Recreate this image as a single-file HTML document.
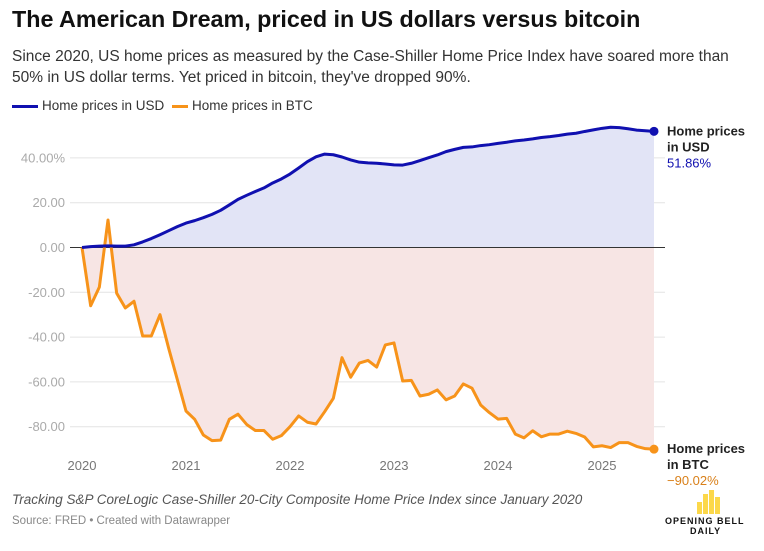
<!DOCTYPE html>
<html><head><meta charset="utf-8"><style>
body{margin:0;width:764px;height:551px;background:#fff;font-family:"Liberation Sans",sans-serif;overflow:hidden;position:relative}
.t{position:absolute;white-space:nowrap}
</style></head><body>
<div class="t" style="left:12px;top:6px;font-size:23.3px;font-weight:bold;color:#111">The American Dream, priced in US dollars versus bitcoin</div>
<div class="t" style="left:12px;top:46px;font-size:15.5px;line-height:21px;color:#333;white-space:normal;width:740px">Since 2020, US home prices as measured by the Case-Shiller Home Price Index have soared more than 50% in US dollar terms. Yet priced in bitcoin, they've dropped 90%.</div>
<div class="t" style="left:12px;top:98px;font-size:13.5px;color:#333"><span style="display:inline-block;width:26px;height:3px;background:#1010b0;vertical-align:middle;margin-right:4px"></span>Home prices in USD</div>
<div class="t" style="left:172px;top:98px;font-size:13.5px;color:#333"><span style="display:inline-block;width:16px;height:3px;background:#f7931a;vertical-align:middle;margin-right:4px"></span>Home prices in BTC</div>
<svg id="c" width="764" height="551" style="position:absolute;left:0;top:0"></svg>
<div class="t" style="left:12px;top:492px;font-size:13.5px;font-style:italic;color:#555">Tracking S&amp;P CoreLogic Case-Shiller 20-City Composite Home Price Index since January 2020</div>
<div class="t" style="left:12px;top:515px;font-size:11.5px;color:#888">Source: FRED • Created with Datawrapper</div>
<div style="position:absolute;left:660px;top:490px;width:100px;height:50px">
<div style="position:absolute;left:37px;top:12px;width:5px;height:12px;background:#fcd84a"></div>
<div style="position:absolute;left:43px;top:4px;width:5px;height:20px;background:#fcd84a"></div>
<div style="position:absolute;left:49px;top:0px;width:5px;height:24px;background:#fcd84a"></div>
<div style="position:absolute;left:55px;top:7px;width:5px;height:17px;background:#fcd84a"></div>
<div class="t" style="left:5px;top:26px;font-size:9px;font-weight:bold;letter-spacing:1px;color:#111">OPENING BELL</div>
<div class="t" style="left:30px;top:36px;font-size:9px;font-weight:bold;letter-spacing:1px;color:#111">DAILY</div>
</div>
<script>
const years=["2020","2021","2022","2023","2024","2025"];
const yTicks=[40,20,0,-20,-40,-60,-80];
const usd=[0,0.4,0.6,0.7,0.6,0.6,1.2,2.5,4,5.7,7.5,9.3,
10.9,12,13.3,14.8,16.6,19,21.5,23.3,25,26.6,28.8,30.6,
32.8,35.5,38.3,40.5,41.7,41.4,40.4,39.1,38.1,37.8,37.6,37.3,
36.9,36.8,37.6,38.8,40.1,41.3,42.8,43.8,44.7,44.9,45.5,45.9,
46.5,47,47.6,48,48.5,49.1,49.5,50,50.6,51,51.8,52.5,
53.2,53.7,53.5,53,52.4,52.1,51.86];
const btc=[0,-26,-17.7,12.3,-20.4,-27,-24,-39.5,-39.5,-30,-45,-59,
-73,-76.7,-83.7,-86.2,-86,-76.7,-74.4,-79,-81.7,-81.7,-85.6,-84,
-80,-75.2,-78,-78.8,-73.3,-67.3,-49.2,-57.9,-51.6,-50.4,-53.4,-43.5,
-42.6,-59.6,-59.3,-66.3,-65.5,-63.6,-68,-66.3,-60.9,-62.8,-70.3,-73.7,
-76.6,-76.3,-83.3,-85,-81.8,-84.5,-83.3,-83.3,-82,-83,-84.6,-89,
-88.5,-89.3,-87.1,-87.1,-88.8,-89.8,-90.02];
const svg=document.getElementById('c');const NS='http://www.w3.org/2000/svg';
const X=i=>82+i*(104/12), Y=v=>247.5-v*2.24;
function mk(t,a,p){const e=document.createElementNS(NS,t);for(const k in a)e.setAttribute(k,a[k]);(p||svg).appendChild(e);return e;}
yTicks.forEach(v=>{if(v!==0){const g=mk('line',{x1:70,x2:665,y1:Y(v),y2:Y(v),stroke:'#e4e4e4','stroke-width':1});

}
const t=mk('text',{x:65,y:Y(v)+4.5,'font-size':13,fill:'#aaa','text-anchor':'end','font-family':'Liberation Sans'});t.textContent=v===40?'40.00%':v.toFixed(2);

});
const n=usd.length;
function area(arr,fill,name){let d='M'+X(0)+','+Y(0);arr.forEach((v,i)=>d+='L'+X(i)+','+Y(v));d+='L'+X(n-1)+','+Y(0)+'Z';const p=mk('path',{d:d,fill:fill});

}
area(usd,'#e2e4f6','usd-area');area(btc,'#f7e5e4','btc-area');
const z=mk('line',{x1:70,x2:665,y1:Y(0),y2:Y(0),stroke:'#333','stroke-width':1});


function line(arr,col,name){const p=mk('polyline',{points:arr.map((v,i)=>X(i)+','+Y(v)).join(' '),fill:'none',stroke:col,'stroke-width':3,'stroke-linejoin':'round'});


const c=mk('circle',{cx:X(n-1),cy:Y(arr[n-1]),r:4.5,fill:col});

}
line(btc,'#f7931a','btc-line');line(usd,'#1010b0','usd-line');
years.forEach((y,i)=>{const t=mk('text',{x:X(i*12),y:470,'font-size':13,fill:'#777','text-anchor':'middle','font-family':'Liberation Sans'});t.textContent=y;

});
function lab(yy,l1,l2,val,col,name){const g=mk('text',{'font-size':13,'font-family':'Liberation Sans'});


[[l1,'#222','bold'],[l2,'#222','bold'],[val,col,'normal']].forEach((r,k)=>{const s=mk('tspan',{x:667,y:yy+k*16,fill:r[1],'font-weight':r[2]},g);s.textContent=r[0];});}
lab(Y(usd[n-1])+4,'Home prices','in USD',usd[n-1].toFixed(2)+'%','#1010b0','usd-end-label');
lab(Y(btc[n-1])+4,'Home prices','in BTC','\u2212'+Math.abs(btc[n-1]).toFixed(2)+'%','#d9801a','btc-end-label');
</script>
</body></html>
